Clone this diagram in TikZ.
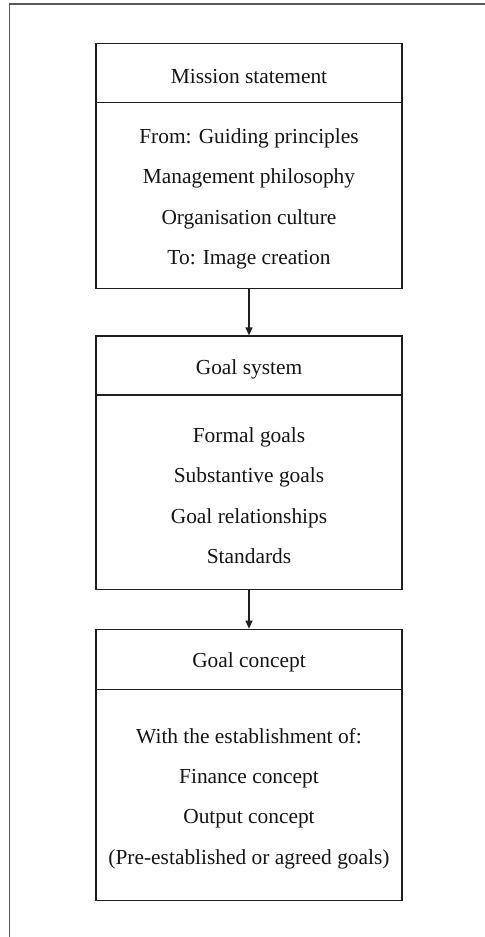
\documentclass[tikz,border=0pt]{standalone}
\usepackage{fontspec}
\setmainfont{Liberation Serif}
\usetikzlibrary{arrows.meta}
\begin{document}
\begin{tikzpicture}[x=1bp,y=-1bp,
  boxpart/.style={draw=black!88, line width=1.3bp, rectangle, minimum width=306bp, inner sep=0pt},
  boxtext/.style={inner sep=0pt, align=center, yshift=-3.5bp,
    font=\fontsize{21.4bp}{40.4bp}\selectfont, text=black!92},
  flow/.style={draw=black!88, line width=1.2bp, -{Triangle[length=8bp,width=7bp]}},
  frame/.style={draw=black!65, line width=1.5bp}]
\useasboundingbox (0,0) rectangle (485,937);
% outer frame (top and left edges)
\draw[frame] (485,3.8) -- (9.5,3.8) -- (9.5,937);

% mission statement
\node[boxpart, minimum height=59bp] (h1) at (249,73) {};
\node[boxpart, minimum height=185.8bp] (b1) at (249,195.4) {};
\node[boxtext] (h1t) at (h1.center) {Mission statement};
\node[boxtext] (b1t) at (b1.center)
  {From: Guiding principles\\Management philosophy\\Organisation culture\\To: Image creation};

% goal system
\node[boxpart, minimum height=59bp] (h2) at (249,365.5) {};
\node[boxpart, minimum height=194.3bp] (b2) at (249,492.15) {};
\node[boxtext] (h2t) at (h2.center) {Goal system};
\node[boxtext] (b2t) at (b2.center)
  {Formal goals\\Substantive goals\\Goal relationships\\Standards};

% goal concept
\node[boxpart, minimum height=60bp] (h3) at (249,659.3) {};
\node[boxpart, minimum height=211.4bp] (b3) at (249,795) {};
\node[boxtext] (h3t) at (h3.center) {Goal concept};
\node[boxtext] (b3t) at (b3.center)
  {With the establishment of:\\Finance concept\\Output concept\\(Pre-established or agreed goals)};

\draw[flow] (b1.south) -- (h2.north);
\draw[flow] (b2.south) -- (h3.north);
\end{tikzpicture}
\end{document}
